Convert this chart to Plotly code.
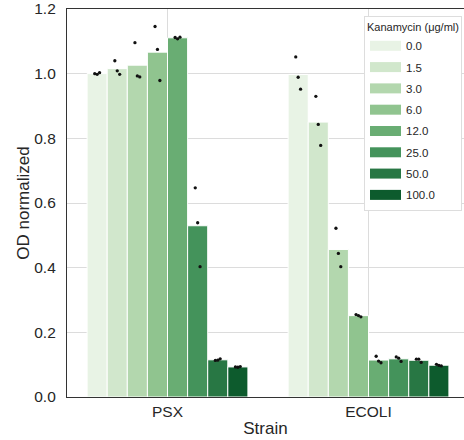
import colorsys
import numpy as np
import plotly.graph_objects as go

# ---------------- data ----------------
strains = ["PSX", "ECOLI"]
concentrations = ["0.0", "1.5", "3.0", "6.0", "12.0", "25.0", "50.0", "100.0"]

# replicate OD (normalized) values, 3 per strain/concentration
psx_reps = [
    [1.000, 0.998, 1.003],
    [1.040, 1.009, 0.998],
    [1.096, 0.993, 0.990],
    [1.146, 1.075, 0.979],
    [1.112, 1.108, 1.113],
    [0.647, 0.539, 0.403],
    [0.113, 0.114, 0.118],
    [0.093, 0.092, 0.094],
]
ecoli_reps = [
    [1.052, 0.989, 0.952],
    [0.930, 0.843, 0.778],
    [0.522, 0.444, 0.403],
    [0.255, 0.252, 0.248],
    [0.126, 0.111, 0.106],
    [0.124, 0.120, 0.110],
    [0.117, 0.117, 0.107],
    [0.101, 0.098, 0.096],
]
y_ticks = [0.0, 0.2, 0.4, 0.6, 0.8, 1.0, 1.2]

# ---------------- colours (Greens, desaturated like seaborn) ----------------
anchors = ["#f7fcf5", "#e5f5e0", "#c7e9c0", "#a1d99b", "#74c476",
           "#41ab5d", "#238b45", "#006d2c", "#00441b"]


def hex2rgb(h):
    h = h.lstrip("#")
    return [int(h[i:i + 2], 16) / 255 for i in (0, 2, 4)]


def greens(t):
    pos = t * (len(anchors) - 1)
    i = min(int(pos), len(anchors) - 2)
    f = pos - i
    a, b = hex2rgb(anchors[i]), hex2rgb(anchors[i + 1])
    rgb = [a[j] + (b[j] - a[j]) * f for j in range(3)]
    h, l, s = colorsys.rgb_to_hls(*rgb)
    r, g, bb = colorsys.hls_to_rgb(h, l, s * 0.75)
    return "rgb(%d,%d,%d)" % (round(r * 255), round(g * 255), round(bb * 255))


n = len(concentrations)
colors = [greens((k + 1) / (n + 1)) for k in range(n)]

# ---------------- figure ----------------
fig = go.Figure()
xcat = np.arange(len(strains))
reps_all = [psx_reps, ecoli_reps]
jitter = [-0.012, 0.0, 0.012]
bar_w = 0.8 / n

for k, conc in enumerate(concentrations):
    means = [float(np.mean(reps_all[s][k])) for s in range(len(strains))]
    fig.add_trace(go.Bar(
        x=xcat, y=means, name=conc, marker_color=colors[k],
        marker_line=dict(color="white", width=1),
        showlegend=False,
    ))

for k, conc in enumerate(concentrations):
    xs, ys = [], []
    for s in range(len(strains)):
        center = xcat[s] - 0.4 + bar_w * (k + 0.5)
        for r, v in enumerate(reps_all[s][k]):
            xs.append(center + jitter[r])
            ys.append(v)
    fig.add_trace(go.Scatter(
        x=xs, y=ys, mode="markers",
        marker=dict(color="#111111", size=3.3),
        showlegend=False, hoverinfo="y",
    ))

# legend entries (wide rectangles like matplotlib patches)
for k, conc in enumerate(concentrations):
    fig.add_trace(go.Scatter(
        x=[None], y=[None], mode="lines", name=conc,
        line=dict(color=colors[k], width=11),
        legendgroup=conc,
    ))

font_family = "Liberation Sans, Arial, sans-serif"
fig.update_layout(
    width=464, height=440,
    margin=dict(l=67, r=0, t=5, b=43),
    paper_bgcolor="white", plot_bgcolor="white",
    barmode="group", bargap=0.2, bargroupgap=0,
    font=dict(family=font_family, color="#262626", size=15),
    legend=dict(
        title=dict(text="Kanamycin (μg/ml)", font=dict(size=11), side="top"),
        font=dict(size=11.5),
        x=0.995, xanchor="right", y=0.982, yanchor="top",
        bgcolor="white", bordercolor="#dddddd", borderwidth=1,
        itemwidth=31, tracegroupgap=2.3,
    ),
    xaxis=dict(
        range=[-0.5, 1.475], tickvals=list(xcat), ticktext=strains,
        showgrid=True, gridcolor="#dcdcdc", gridwidth=1,
        showline=True, linecolor="#333333", linewidth=1.25, mirror=True,
        ticks="", tickfont=dict(size=15.5), zeroline=False,
        title=dict(text="Strain", font=dict(size=17), standoff=3),
    ),
    yaxis=dict(
        range=[0, 1.2001], tickvals=y_ticks,
        ticktext=["%.1f" % v for v in y_ticks],
        showgrid=True, gridcolor="#dcdcdc", gridwidth=1,
        showline=True, linecolor="#333333", linewidth=1.25,
        ticks="", ticklabelstandoff=7, tickfont=dict(size=15.5), zeroline=False,
        ticklabeloverflow="allow",
        title=dict(text="OD normalized", font=dict(size=17), standoff=0),
    ),
)

fig.write_html("out.html")
